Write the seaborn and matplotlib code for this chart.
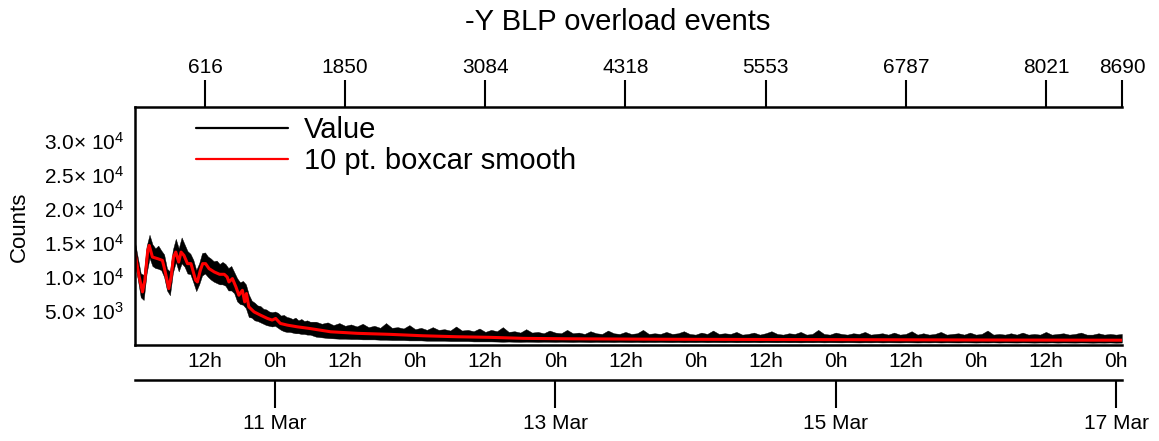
import numpy as np
import seaborn as sns
import matplotlib.pyplot as plt
from matplotlib.lines import Line2D
from matplotlib.ticker import FixedLocator, MultipleLocator

# Eixo x em horas desde 10 Mar 00:00
# Curva suavizada (10 pt. boxcar)
smooth_h = [0.0, 0.74, 1.3, 1.7, 2.2, 2.45, 3.0, 3.9, 4.7, 5.0,
            5.5, 5.8, 6.2, 6.6, 7.0, 7.5, 7.9, 8.4, 9.0, 9.6,
            10.0, 10.4, 10.7, 11.2, 11.6, 12.1, 12.7, 13.6, 14.5, 15.3,
            15.8, 16.1, 16.7, 17.3, 17.8, 18.4, 18.8, 19.1, 19.5, 20.4,
            21.5, 22.7, 23.5, 24.1, 24.9, 26.1, 27.8, 29.8, 33.5, 38.1,
            43.7, 49.4, 55.1, 60.8, 66.5, 73.9, 90, 110, 130, 150, 169]
smooth_v = [13600, 9980, 7790, 9500, 13900, 14630, 12920, 12680, 12430, 11450,
            9500, 8280, 9980, 12920, 13650, 12180, 13650, 13160, 11950, 11950,
            10720, 9500, 9250, 10960, 11950, 11950, 11210, 10720, 10380, 10380,
            9980, 9250, 9750, 8520, 7300, 8030, 6320, 7550, 5590, 4850,
            4370, 3880, 3640, 3880, 3150, 2900, 2650, 2420, 1920, 1690,
            1540, 1330, 1190, 1100, 950, 890, 820, 780, 740, 700, 680]

# Faixa dos valores brutos ("Value"): envelope superior / inferior
band_h = list(np.arange(0, 30.5, 0.5)) + list(range(31, 170))
raw_hi = [15200, 12800, 10500, 10300, 14500, 16200, 14800, 14200, 14600, 13900,
          13300, 11200, 10800, 14000, 15600, 14200, 15800, 14800, 13800, 13400,
          12500, 11000, 12000, 13500, 13600, 13000, 12700, 12300, 12400, 11900,
          12200, 11900, 11300, 11600, 10700, 9800, 9200, 9400, 8900, 7400,
          6500, 6200, 5800, 5700, 5300, 5200, 4900, 4800, 4900, 4700,
          4300, 4400, 4100, 4000, 3800, 4000, 3600, 3800, 3500, 3600,
          3400,
          3400, 3100, 3300, 2900, 3200, 2800, 3000, 2700, 3100, 2600,
          2800, 2500, 3200, 2500, 2600, 2400, 2900, 2300, 2500, 2200,
          2600, 2200, 2300, 2100, 2700, 2100, 2200, 2000, 2400, 1900,
          2200, 2000, 2600, 1900, 2000, 1800, 2300, 1800, 1900, 1700,
          2100, 1800, 1700, 2200, 1700, 1800, 1600, 2000, 1700, 1600,
          2100, 1700, 1600, 1900, 1600, 1700, 2200, 1600, 1700, 1600,
          1900, 1600, 1700, 2000, 1600, 1500, 1800, 1600, 2100, 1600,
          1700, 1600, 1900, 1500, 1600, 1800, 1500, 1700, 2000, 1600,
          1500, 1700, 1600, 1900, 1500, 1600, 2200, 1600, 1500, 1800,
          1600, 1500, 1700, 1600, 1900, 1500, 1600, 1700, 1500, 1800,
          1500, 1600, 2000, 1500, 1700, 1500, 1600, 1900, 1500, 1600,
          1700, 1500, 1800, 1500, 1600, 2100, 1500, 1600, 1500, 1700,
          1500, 1800, 1500, 1600, 1500, 1900, 1500, 1600, 1700, 1500,
          1600, 1800, 1500, 1500, 1700, 1500, 1600, 1500, 1600]
raw_lo = [12000, 9600, 7000, 6600, 10500, 12800, 11600, 11300, 11200, 11000,
          10000, 8000, 7300, 10600, 12200, 10800, 12000, 11500, 10500, 10400,
          9200, 7900, 8900, 10200, 10500, 10000, 9600, 9300, 9100, 8900,
          8900, 8700, 8000, 8000, 7600, 6400, 6000, 5900, 5400, 4100,
          4000, 3600, 3500, 3300, 3100, 2900, 2800, 2700, 2800, 2500,
          2200, 2000, 1900, 1900, 1800, 1700, 1700, 1600, 1600, 1500,
          1500,
          1200, 1100, 1000, 950, 900, 900, 850, 850, 800, 800,
          800, 750, 750, 700, 700, 700, 650, 650, 650, 600,
          600, 600, 600, 550, 550, 550, 550, 500, 500, 500,
          500, 480, 450, 480, 450, 430, 460, 450, 420, 450,
          440, 420, 450, 430, 410, 440, 420, 400, 430, 410,
          420, 400, 430, 410, 400, 420, 390, 410, 400, 420,
          400, 390, 410, 380, 400, 390, 410, 380, 400, 390,
          380, 400, 370, 390, 380, 400, 370, 390, 380, 370,
          390, 370, 380, 360, 380, 370, 390, 360, 380, 370,
          360, 380, 370, 350, 370, 360, 380, 350, 370, 360,
          350, 370, 360, 340, 360, 350, 370, 340, 360, 350,
          340, 360, 350, 330, 350, 340, 360, 330, 350, 340,
          330, 350, 340, 320, 340, 330, 350, 320, 340, 330,
          320, 340, 330, 310, 330, 320, 340, 310, 330]

# Rotulos e marcas dos eixos
y_ticks = [5000, 10000, 15000, 20000, 25000, 30000]
y_labels = ["5.0× 10$^{3}$", "1.0× 10$^{4}$", "1.5× 10$^{4}$",
            "2.0× 10$^{4}$", "2.5× 10$^{4}$", "3.0× 10$^{4}$"]
hour_ticks = [12, 24, 36, 48, 60, 72, 84, 96, 108, 120, 132, 144, 156, 168]
hour_labels = ["12h", "0h"] * 7
date_ticks = [24, 72, 120, 168]
date_labels = ["11 Mar", "13 Mar", "15 Mar", "17 Mar"]
top_ticks = [616, 1850, 3084, 4318, 5553, 6787, 8021, 8690]
legend_labels = ["Value", "10 pt. boxcar smooth"]
title = "-Y BLP overload events"


def h2idx(h):
    return (np.asarray(h, dtype=float) - 12.0) * 1234 / 24 + 616


def idx2h(i):
    return (np.asarray(i, dtype=float) - 616) * 24 / 1234 + 12.0


sns.set_style("white")
plt.rcParams['font.family'] = ['Liberation Sans', 'DejaVu Sans']
plt.rcParams['mathtext.default'] = 'regular'
plt.rcParams['axes.edgecolor'] = 'black'
plt.rcParams['xtick.color'] = 'black'
plt.rcParams['ytick.color'] = 'black'
plt.rcParams['text.color'] = 'black'

fig = plt.figure(figsize=(11.59, 4.41), dpi=100)
ax = fig.add_axes([0.1165, 0.2181, 0.8516, 0.5392])

ax.fill_between(band_h, raw_lo, raw_hi, color='black', lw=0.3)
sns.lineplot(x=smooth_h, y=smooth_v, color='red', lw=2.2, ax=ax)

ax.set_xlim(idx2h(0), idx2h(8690))
ax.set_ylim(0, 35000)
ax.set_axisbelow(False)
ax.spines['top'].set_visible(False)
ax.spines['right'].set_visible(False)
ax.spines['left'].set_linewidth(1.8)
ax.spines['bottom'].set_linewidth(1.8)

ax.yaxis.set_major_locator(FixedLocator(y_ticks))
ax.set_yticklabels(y_labels)
ax.yaxis.set_minor_locator(MultipleLocator(1000))
ax.tick_params(axis='y', which='major', direction='in', length=6.5, width=1.5, labelsize=15, pad=8)
ax.tick_params(axis='y', which='minor', direction='in', length=3, width=1.5)

ax.xaxis.set_major_locator(FixedLocator(hour_ticks))
ax.set_xticklabels(hour_labels)
ax.xaxis.set_minor_locator(MultipleLocator(2.4))
ax.tick_params(axis='x', which='major', direction='in', length=5, width=1.5, labelsize=15, pad=5)
ax.tick_params(axis='x', which='minor', direction='in', length=3, width=1.5)
ax.set_xlabel("")
ax.set_ylabel("")

# Eixo superior: indice da amostra
top = ax.secondary_xaxis('top', functions=(h2idx, idx2h))
top.set_xticks(top_ticks)
top.set_xticklabels([str(t) for t in top_ticks])
top.tick_params(direction='out', length=19.5, width=1.5, labelsize=15, pad=2)
top.spines['top'].set_linewidth(1.8)

# Eixo das datas, abaixo
date_ax = ax.secondary_xaxis(-0.148)
date_ax.set_xticks(date_ticks)
date_ax.set_xticklabels(date_labels)
date_ax.tick_params(direction='out', length=20, width=1.5, labelsize=15, pad=4.5)
date_ax.spines['bottom'].set_linewidth(1.8)

handles = [Line2D([], [], color='black', lw=1.6), Line2D([], [], color='red', lw=1.6)]
ax.legend(handles, legend_labels, loc='upper left', bbox_to_anchor=(0.0618, 0.962),
          frameon=False, fontsize=21, handlelength=3.17, handletextpad=0.52,
          labelspacing=0.1, borderpad=0, borderaxespad=0)

fig.text(617.5 / 1159, 1 - 22 / 441, title, ha='center', va='center', fontsize=21)
fig.text(19 / 1159, 1 - 227 / 441, "Counts", rotation=90, ha='center', va='center', fontsize=16)

fig.savefig("out.png", dpi=100)
